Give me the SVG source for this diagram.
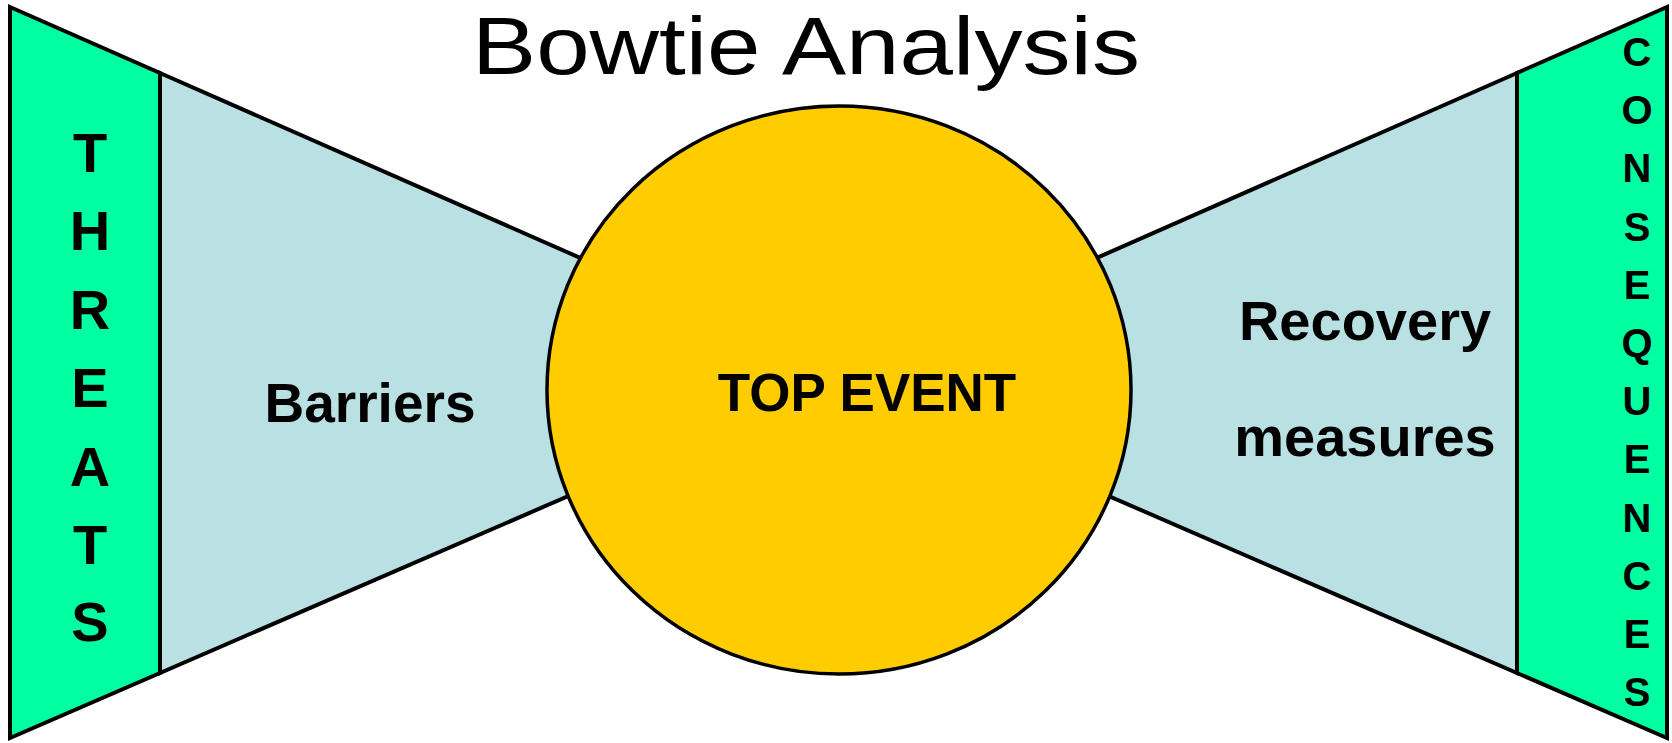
<svg xmlns="http://www.w3.org/2000/svg" width="1672" height="743" viewBox="0 0 1672 743">
<style>
.green{fill:#00FFA0;stroke:#000;stroke-width:4;stroke-linejoin:miter}
.blue{fill:#B9E0E3;stroke:#000;stroke-width:4}
.top{fill:#FFCC00;stroke:#000;stroke-width:3.5}
.lbl{font-family:"Liberation Sans",Arial,sans-serif;font-weight:bold;fill:#000}
.side{font-family:"Liberation Sans",Arial,sans-serif;font-weight:bold;fill:#000;text-anchor:middle}
</style>
<rect width="1672" height="743" fill="#fff"/>
<text x="806" y="74" font-family="'Liberation Sans',Arial,sans-serif" font-size="81" text-anchor="middle" textLength="668" lengthAdjust="spacingAndGlyphs">Bowtie Analysis</text>
<g id="connectors">
<polygon id="barriers-wedge" class="blue" points="160,73 700,310.6 700,439 160,673"/>
<polygon id="recovery-wedge" class="blue" points="1517,73 977,310.6 977,439 1517,673"/>
</g>
<g id="threats">
<polygon class="green" points="10,7 160,73 160,673 10,738"/>
<g class="side" font-size="56">
<text x="90" y="172">T</text>
<text x="90" y="250">H</text>
<text x="90" y="329">R</text>
<text x="90" y="407">E</text>
<text x="90" y="486">A</text>
<text x="90" y="564">T</text>
<text x="90" y="641">S</text>
</g>
</g>
<g id="consequences">
<polygon class="green" points="1667,7 1517,73 1517,673 1667,738"/>
<g class="side" font-size="40">
<text x="1637" y="66">C</text>
<text x="1637" y="124">O</text>
<text x="1637" y="182">N</text>
<text x="1637" y="241">S</text>
<text x="1637" y="299">E</text>
<text x="1637" y="357">Q</text>
<text x="1637" y="415">U</text>
<text x="1637" y="473">E</text>
<text x="1637" y="532">N</text>
<text x="1637" y="590">C</text>
<text x="1637" y="648">E</text>
<text x="1637" y="706">S</text>
</g>
</g>
<g id="barriers">
<text class="lbl" x="370" y="422" font-size="55" text-anchor="middle">Barriers</text>
</g>
<g id="recovery">
<text class="lbl" x="1365" y="340" font-size="56" text-anchor="middle">Recovery</text>
<text class="lbl" x="1365" y="456" font-size="56" text-anchor="middle">measures</text>
</g>
<g id="top-event">
<ellipse class="top" cx="839" cy="390" rx="292" ry="284"/>
<text class="lbl" x="867" y="411" font-size="53" text-anchor="middle">TOP EVENT</text>
</g>
</svg>
